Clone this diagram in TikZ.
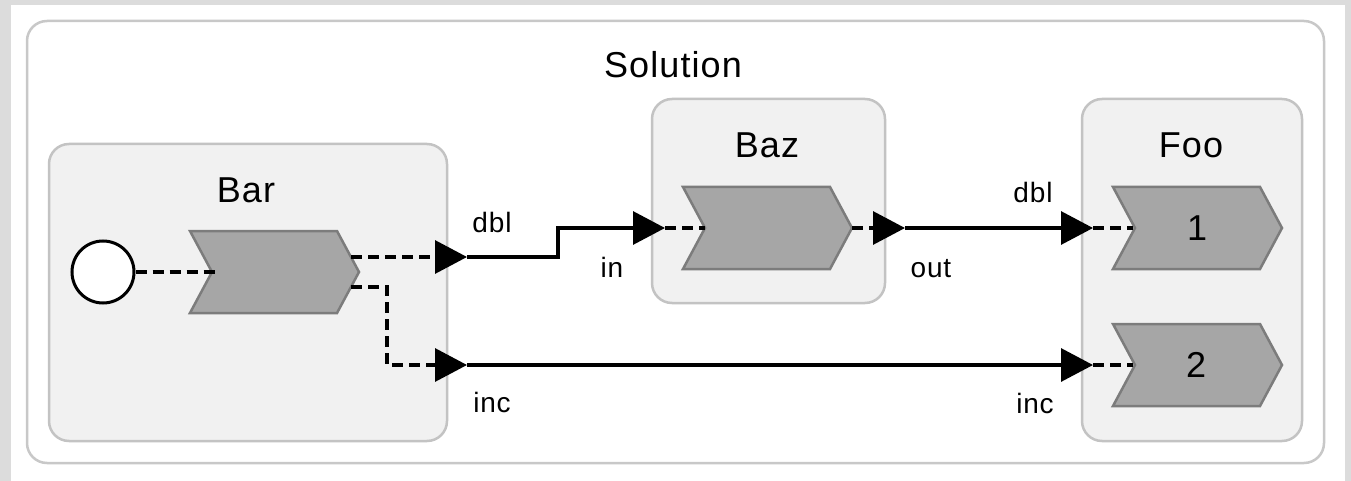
\documentclass[tikz,border=0pt]{standalone}
\usepackage{fontspec}
\setmainfont{Liberation Sans}
\newfontfamily\labelfont[LetterSpace=3]{Liberation Sans}
\usetikzlibrary{arrows.meta}
\definecolor{bggray}{HTML}{DCDCDC}
\definecolor{grpfill}{HTML}{F1F1F1}
\definecolor{grpline}{HTML}{C3C3C3}
\definecolor{chevfill}{HTML}{A6A6A6}
\definecolor{chevline}{HTML}{7C7C7C}
\definecolor{outline}{HTML}{C8C8C8}
\tikzset{
  groupbox/.style={draw=grpline, fill=grpfill, line width=2.5pt, rounded corners=20pt},
  outerbox/.style={draw=outline, fill=white, line width=2.5pt, rounded corners=20pt},
  chevron/.style={draw=chevline, fill=chevfill, line width=2.5pt, line join=miter},
  titletext/.style={font=\labelfont\fontsize{36}{40}\selectfont, anchor=base, inner sep=0pt},
  porttext/.style={font=\labelfont\fontsize{28}{32}\selectfont, anchor=base, inner sep=0pt},
  numtext/.style={font=\fontsize{36}{40}\selectfont, inner sep=0pt},
  wire/.style={line width=3.2pt},
  dashwire/.style={line width=3.2pt, dash pattern=on 11pt off 6pt},
  tip/.style={-{Triangle[length=32pt,width=33pt]}},
}
\newcommand\chevshape[2]{% left x, top y
  \draw[chevron] (#1,#2) -- ++(147,0) -- ++(22,41) -- ++(-22,41) -- ++(-147,0) -- ++(22,-41) -- cycle;}
\begin{document}
\begin{tikzpicture}[x=1pt,y=-1pt]
\useasboundingbox (0,0) rectangle (1351,481);
\fill[white] (0,0) rectangle (1351,481);
\fill[bggray] (0,0) rectangle (11,481);
\fill[bggray] (0,0) rectangle (1351,5);
\fill[bggray] (1345,0) rectangle (1351,481);

% outer solution box
\draw[outerbox] (27,21) rectangle (1324,463);
\node[titletext] (soltitle) at (673,78) {Solution};

% groups
\draw[groupbox] (49,144) rectangle (447,441);
\node[titletext] (bartitle) at (246,202) {Bar};
\draw[groupbox] (652,99) rectangle (885,303);
\node[titletext] (baztitle) at (767,158) {Baz};
\draw[groupbox] (1082,99) rectangle (1302,441);
\node[titletext] (footitle) at (1191,158) {Foo};

% chevrons
\chevshape{190}{231}
\chevshape{683}{187}
\chevshape{1113}{187}
\chevshape{1113}{324}
\node[numtext] (one) at (1197,228) {1};
\node[numtext] (two) at (1196,365) {2};

% start circle
\node[circle, draw=black, fill=white, line width=3pt, minimum size=62pt, inner sep=0pt] (start) at (103,272) {};

% port coordinates
\coordinate (barin) at (216,272);
\coordinate (barout1) at (351,257);
\coordinate (barout2) at (351,287);
\coordinate (pdbl) at (467,257);
\coordinate (pinc) at (467,365);
\coordinate (bazin) at (665,228);
\coordinate (baznotch) at (705,228);
\coordinate (baztip) at (852,228);
\coordinate (bazout) at (905,228);
\coordinate (fooin1) at (1093,228);
\coordinate (foonotch1) at (1133,228);
\coordinate (fooin2) at (1093,365);
\coordinate (foonotch2) at (1133,365);

% connectors
\draw[dashwire] (start.east) -- (barin);
\draw[dashwire, tip] (barout1) -- (pdbl);
\draw[dashwire, tip] (barout2) -- ++(36,0) |- (pinc);
\draw[wire, tip] (pdbl) -- ++(91,0) |- (bazin);
\draw[dashwire] (bazin) -- (baznotch);
\draw[dashwire, tip] (baztip) -- (bazout);
\draw[wire, tip] (bazout) -- (fooin1);
\draw[dashwire] (fooin1) -- (foonotch1);
\draw[wire, tip] (pinc) -- (fooin2);
\draw[dashwire] (fooin2) -- (foonotch2);

% port labels
\node[porttext] (ldbl) at (492,232) {dbl};
\node[porttext] (linc) at (492,412) {inc};
\node[porttext] (lin) at (612,277) {in};
\node[porttext] (lout) at (931,277) {out};
\node[porttext] (rdbl) at (1033,203) {dbl};
\node[porttext] (rinc) at (1035,413) {inc};
\end{tikzpicture}
\end{document}
